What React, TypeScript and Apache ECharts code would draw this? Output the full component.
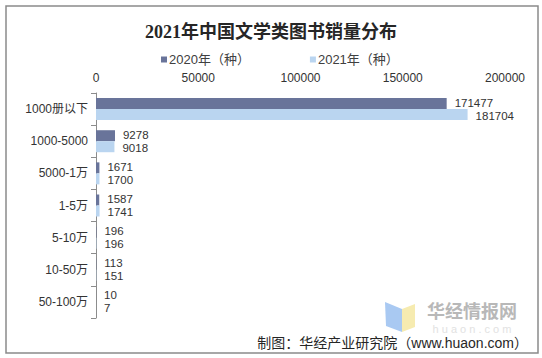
import React, { useEffect, useRef } from "react";
import * as echarts from "echarts";

const categories = ["1000册以下", "1000-5000", "5000-1万", "1-5万", "5-10万", "10-50万", "50-100万"];
const series2020 = [171477, 9278, 1671, 1587, 196, 113, 10];
const series2021 = [181704, 9018, 1700, 1741, 196, 151, 7];
const seriesNames = ["2020年（种）", "2021年（种）"];
const titleText = "2021年中国文学类图书销量分布";
const footerText = "制图：华经产业研究院（www.huaon.com）";

const SANS = "'Liberation Sans', 'Noto Sans CJK SC', sans-serif";
const SERIF = "'Liberation Serif', 'Noto Sans CJK SC', serif";

export default function App() {
  const ref = useRef<HTMLDivElement>(null);
  useEffect(() => {
    if (!ref.current) return;
    const chart = echarts.init(ref.current, undefined, { renderer: "svg" });
    const barLabel = (dy: number) => ({
      show: true,
      position: "right",
      distance: 8,
      offset: [0, dy],
      fontSize: 11.5,
      lineHeight: 10,
      color: "#333",
      fontFamily: SANS,
    });
    chart.setOption({
      animation: false,
      backgroundColor: "#ffffff",
      title: {
        text: titleText,
        left: "center",
        top: 18,
        textStyle: { fontSize: 18, fontWeight: "bold", color: "#262626", fontFamily: SERIF },
      },
      legend: {
        data: seriesNames,
        left: 156,
        top: 48,
        icon: "rect",
        itemWidth: 6,
        itemHeight: 6,
        itemGap: 60,
        textStyle: { fontSize: 13, color: "#404040", fontFamily: SANS, padding: [0, 0, 0, -3] },
      },
      grid: { left: 96, right: 37, top: 93, bottom: 40 },
      xAxis: {
        type: "value",
        position: "top",
        min: 0,
        max: 200000,
        interval: 50000,
        axisLine: { show: false },
        axisTick: { show: false },
        splitLine: { show: false },
        axisLabel: {
          fontSize: 12,
          color: "#333",
          fontFamily: SANS,
          margin: 9,
          formatter: (v: number) => String(v),
        },
      },
      yAxis: {
        type: "category",
        inverse: true,
        data: categories,
        axisLine: { show: true, lineStyle: { color: "#8c8c8c", width: 1 } },
        axisTick: { show: true, length: 5, lineStyle: { color: "#8c8c8c" } },
        axisLabel: { fontSize: 12, color: "#333", fontFamily: SANS, margin: 8 },
      },
      series: [
        {
          name: seriesNames[0],
          type: "bar",
          data: series2020,
          barWidth: 11,
          barGap: "0%",
          itemStyle: { color: "#69749a" },
          label: barLabel(-1),
        },
        {
          name: seriesNames[1],
          type: "bar",
          data: series2021,
          barWidth: 11,
          barGap: "0%",
          itemStyle: { color: "#bad5f0" },
          label: barLabel(1),
        },
      ],
      graphic: [
        {
          type: "rect",
          z: -10,
          silent: true,
          shape: { x: 6, y: 6, width: 532, height: 347 },
          style: { fill: "none", stroke: "#8a8a8a", lineWidth: 1.5 },
        },
        {
          type: "polygon",
          silent: true,
          shape: { points: [[385, 302], [402, 309], [402, 332], [386, 326]] },
          style: { fill: "#a9c9f2" },
        },
        {
          type: "polygon",
          silent: true,
          shape: { points: [[402, 309], [415, 304], [415, 327], [402, 332]] },
          style: { fill: "#f6ebb0" },
        },
        {
          type: "text",
          silent: true,
          x: 427,
          y: 312,
          style: {
            text: "华经情报网",
            fontSize: 18,
            fontWeight: "bold",
            fill: "#b8b8b8",
            fontFamily: SANS,
            verticalAlign: "middle",
          },
        },
        {
          type: "text",
          silent: true,
          x: 472,
          y: 329,
          style: {
            text: "h u a o n . c o m",
            fontSize: 11,
            fill: "#e2e2e2",
            fontFamily: SANS,
            align: "center",
            verticalAlign: "middle",
          },
        },
        {
          type: "text",
          silent: true,
          x: 528,
          y: 343,
          style: {
            text: footerText,
            fontSize: 14,
            fill: "#262626",
            fontFamily: SANS,
            align: "right",
            verticalAlign: "middle",
          },
        },
      ],
    });
    return () => chart.dispose();
  }, []);
  return (
    <div
      ref={ref}
      style={{ position: "fixed", left: 0, top: 0, width: 542, height: 358 }}
    />
  );
}
